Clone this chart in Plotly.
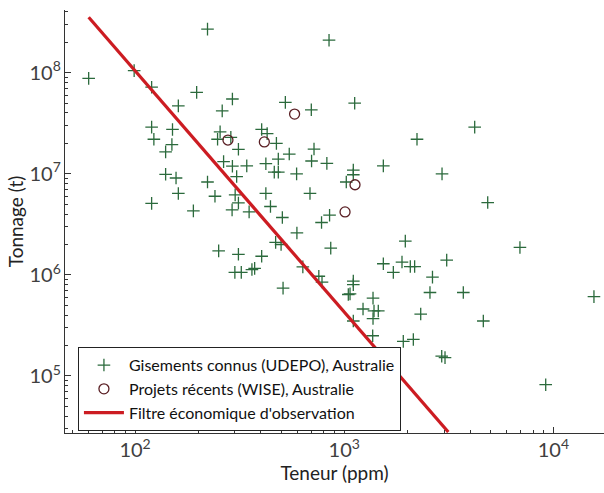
import plotly.graph_objects as go

# Known deposits (UDEPO), Australia: grade (ppm) and tonnage (t)
udepo_teneur = [
    60, 99, 120, 197, 161, 120, 151, 123, 150, 140, 140, 157, 161, 120, 190,
    222, 846, 292, 261, 523, 696, 1122, 255, 248, 287, 403, 428, 474, 312, 717,
    546, 484, 698, 826, 1538, 265, 292, 342, 422, 463, 484, 592, 306, 222, 241,
    301, 422, 686, 312, 291, 351, 444, 506, 851, 779, 594, 470, 499, 862, 251,
    312, 403, 300, 322, 362, 373, 510, 634, 756, 783, 1105, 1105, 1023, 4205, 2228,
    2935, 4853, 1959, 6920, 1538, 1889, 2070, 2171, 1717, 3090, 2642, 2570, 3710, 15630,
    2321, 4624, 1916, 2140, 2925, 3033, 9190, 1105, 1105, 1046, 1066, 1373, 1230,
    1388, 1455, 1373, 1105, 1368,
]
udepo_tonnage = [
    8.8e7, 1.05e8, 7.2e7, 6.4e7, 4.7e7, 2.9e7, 2.75e7, 2.2e7, 1.95e7, 1.65e7, 9.9e6, 9.1e6, 6.4e6, 5.1e6, 4.3e6,
    2.7e8, 2.1e8, 5.5e7, 4.2e7, 5.1e7, 4.3e7, 5.0e7, 2.6e7, 2.2e7, 2.3e7, 2.75e7, 2.5e7, 2.0e7, 1.75e7, 1.76e7,
    1.57e7, 1.4e7, 1.34e7, 1.27e7, 1.2e7, 1.32e7, 1.19e7, 1.2e7, 1.26e7, 1.04e7, 1.04e7, 1.0e7, 9.4e6, 8.3e6, 6.0e6,
    6.2e6, 6.4e6, 6.4e6, 5.15e6, 4.4e6, 4.2e6, 4.75e6, 3.7e6, 3.9e6, 3.3e6, 2.6e6, 2.1e6, 2.0e6, 1.84e6, 1.73e6,
    1.6e6, 1.53e6, 1.06e6, 1.06e6, 1.13e6, 1.16e6, 7.4e5, 1.2e6, 9.7e5, 8.5e5, 1.09e7, 9.8e6, 8.3e6, 2.9e7, 2.2e7,
    1.0e7, 5.2e6, 2.16e6, 1.87e6, 1.29e6, 1.34e6, 1.21e6, 1.21e6, 1.06e6, 1.4e6, 9.5e5, 6.7e5, 6.7e5, 6.1e5,
    4.1e5, 3.5e5, 2.2e5, 2.3e5, 1.57e5, 1.52e5, 8.2e4, 8.7e5, 8.0e5, 6.4e5, 6.5e5, 5.9e5, 4.6e5,
    4.4e5, 4.4e5, 3.7e5, 3.5e5, 2.5e5,
]

# Recent projects (WISE), Australia
wise_teneur = [278, 415, 579, 1126, 1009]
wise_tonnage = [2.16e7, 2.07e7, 3.9e7, 7.8e6, 4.2e6]

# Economic observation filter (straight line in log-log space)
filtre_teneur = [60, 3145]
filtre_tonnage = [3.54e8, 2.79e4]

FONT = "Lato, 'Open Sans', sans-serif"

fig = go.Figure()

fig.add_trace(go.Scatter(
    x=udepo_teneur, y=udepo_tonnage, mode="markers",
    name="Gisements connus (UDEPO), Australie",
    marker=dict(symbol="cross-thin", size=9, color="#2b6a3c",
                line=dict(width=1.3, color="#2b6a3c")),
))
fig.add_trace(go.Scatter(
    x=wise_teneur, y=wise_tonnage, mode="markers",
    name="Projets récents (WISE), Australie",
    marker=dict(symbol="circle-open", size=10, color="#5a1f24",
                line=dict(width=1.3, color="#5a1f24")),
))
fig.add_trace(go.Scatter(
    x=filtre_teneur, y=filtre_tonnage, mode="lines",
    name="Filtre économique d'observation",
    line=dict(color="#cc1c22", width=3.2),
))

axis_common = dict(
    type="log",
    dtick=1,
    exponentformat="power",
    showgrid=False,
    zeroline=False,
    showline=True,
    linecolor="#333333",
    linewidth=1,
    ticks="inside",
    ticklen=6,
    tickcolor="#333333",
    tickfont=dict(family=FONT, size=16, color="#404040"),
    minor=dict(ticks="inside", ticklen=3, tickcolor="#333333", dtick="D1", showgrid=False),
)

fig.update_layout(
    width=604,
    height=493,
    margin=dict(l=65, r=0, t=10, b=60),
    paper_bgcolor="white",
    plot_bgcolor="white",
    font=dict(family=FONT, color="#222222"),
    xaxis=dict(
        axis_common,
        range=[1.665, 4.242],
        title=dict(text="Teneur (ppm)", font=dict(family=FONT, size=19, color="#222222"), standoff=6),
    ),
    yaxis=dict(
        axis_common,
        range=[4.436, 8.621],
        title=dict(text="Tonnage (t)", font=dict(family=FONT, size=19, color="#222222"), standoff=0),
    ),
    legend=dict(
        x=0.024, y=0.203, xanchor="left", yanchor="top",
        bgcolor="white",
        bordercolor="#222222",
        borderwidth=1,
        font=dict(family=FONT, size=16, color="#111111"),
        tracegroupgap=0,
        itemwidth=40,
    ),
    showlegend=True,
)

fig.write_html("out.html")
